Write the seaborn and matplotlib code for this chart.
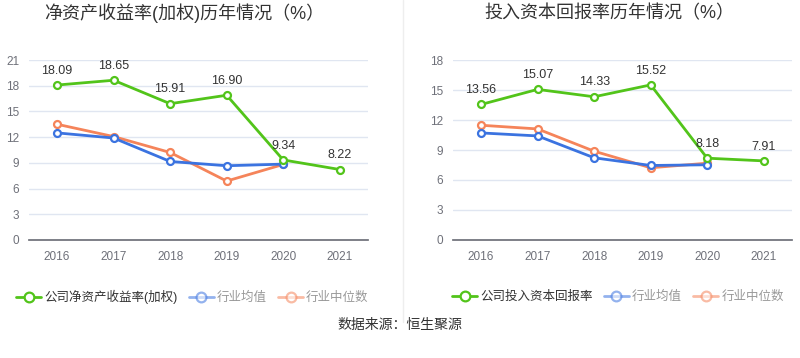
import matplotlib
matplotlib.use("Agg")
import matplotlib.pyplot as plt
from matplotlib.lines import Line2D
import numpy as np
import seaborn as sns

years = ["2016", "2017", "2018", "2019", "2020", "2021"]

roe_company = [18.09, 18.65, 15.91, 16.90, 9.34, 8.22]
roe_ind_avg = [12.50, 11.90, 9.16, 8.66, 8.85]
roe_ind_median = [13.51, 12.07, 10.21, 6.87, 8.81]

roic_company = [13.56, 15.07, 14.33, 15.52, 8.18, 7.91]
roic_ind_avg = [10.71, 10.41, 8.22, 7.45, 7.52]
roic_ind_median = [11.48, 11.11, 8.88, 7.22, 7.68]

GREEN = "#52c41a"
BLUE = "#3b73e0"
ORANGE = "#f5845a"
GRID = "#e0e6f1"
TICK = "#6e7079"
TEXT = "#333333"

sns.set_theme(style="white")
plt.rcParams["font.family"] = ["Liberation Sans", "Noto Sans CJK SC", "DejaVu Sans"]

fig = plt.figure(figsize=(8, 3.58), dpi=100)
ax1 = fig.add_axes([0.036, 0.330, 0.424, 0.502])
ax2 = fig.add_axes([0.566, 0.330, 0.424, 0.502])


def draw_panel(ax, company, avg, median, ymax):
    x_all = np.arange(len(years))
    x_ind = np.arange(len(avg))
    for xs, ys, col, z in [(x_ind, median, ORANGE, 2), (x_ind, avg, BLUE, 3), (x_all, company, GREEN, 4)]:
        sns.lineplot(x=xs, y=ys, ax=ax, color=col, linewidth=2, zorder=z,
                     marker="o", markersize=5, markerfacecolor="white",
                     markeredgecolor=col, markeredgewidth=1.6)
    for xi, v in zip(x_all, company):
        ax.annotate(f"{v:.2f}", (xi, v), xytext=(0, 6), textcoords="offset points",
                    ha="center", va="bottom", fontsize=9, color=TEXT, zorder=6)
    ax.set_xlim(-0.5, len(years) - 0.5)
    ax.set_ylim(0, ymax)
    ax.set_yticks(np.arange(0, ymax + 1, 3))
    ax.set_xticks(x_all)
    ax.set_xticklabels(years)
    ax.grid(axis="y", color=GRID, linewidth=1)
    ax.set_axisbelow(True)
    for s in ["top", "right", "left"]:
        ax.spines[s].set_visible(False)
    ax.spines["bottom"].set_color(TICK)
    ax.tick_params(axis="both", colors=TICK, labelsize=8.5, length=0, pad=7)
    ax.tick_params(axis="x", length=4, color=TICK, pad=4)
    ax.set_xlabel("")
    ax.set_ylabel("")


draw_panel(ax1, roe_company, roe_ind_avg, roe_ind_median, 21)
draw_panel(ax2, roic_company, roic_ind_avg, roic_ind_median, 18)

fig.text(0.230, 0.963, "净资产收益率(加权)历年情况（%）", ha="center", va="center", fontsize=13, color=TEXT)
fig.text(0.762, 0.963, "投入资本回报率历年情况（%）", ha="center", va="center", fontsize=13, color=TEXT)
fig.text(0.5, 0.092, "数据来源：恒生聚源", ha="center", va="center", fontsize=10, color=TEXT)

fig.add_artist(Line2D([0.504, 0.504], [0.10, 1.0], color="#eeeeee", linewidth=1))


def handle(col, alpha):
    return Line2D([0], [0], color=col, alpha=alpha, linewidth=2, marker="o", markersize=7,
                  markerfacecolor="white", markeredgecolor=col, markeredgewidth=1.6)


for name, x0 in [("公司净资产收益率(加权)", 0.006), ("公司投入资本回报率", 0.551)]:
    leg = fig.legend([handle(GREEN, 1), handle(BLUE, 0.55), handle(ORANGE, 0.55)],
                     [name, "行业均值", "行业中位数"], loc="center left",
                     bbox_to_anchor=(x0, 0.17), ncol=3, frameon=False, fontsize=9,
                     handlelength=2.0, handletextpad=0.25, columnspacing=0.9)
    for t, c in zip(leg.get_texts(), [TEXT, "#999999", "#999999"]):
        t.set_color(c)

fig.savefig("out.png", dpi=100)
